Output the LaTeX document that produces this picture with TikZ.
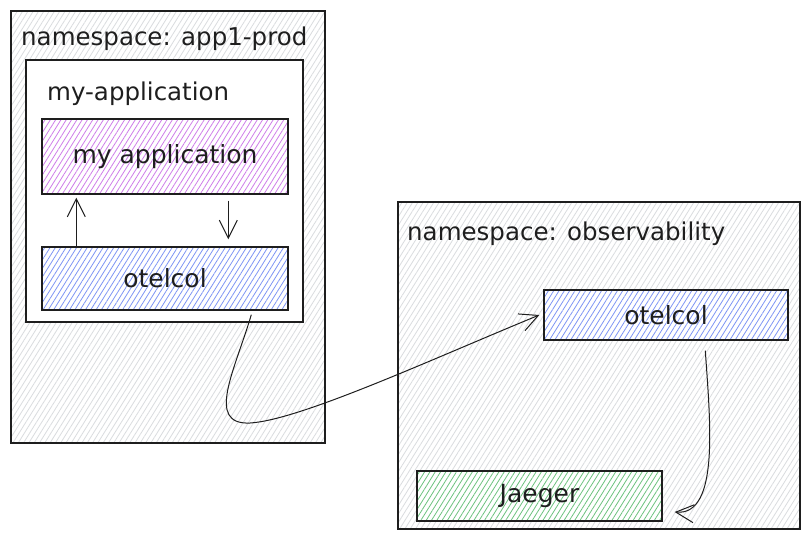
\documentclass[tikz,border=0pt]{standalone}
\usepackage{fontspec}
\setmainfont{DejaVu Sans}
\usetikzlibrary{patterns.meta,arrows.meta,calc}
\definecolor{ink}{HTML}{1E1E1E}
\definecolor{hgray}{HTML}{DADCDF}
\definecolor{hpurple}{HTML}{CF7DEA}
\definecolor{hblue}{HTML}{7E95F5}
\definecolor{hgreen}{HTML}{6CC27E}
\tikzset{
  box/.style={draw=ink, line width=1.4pt, rectangle, inner sep=0pt, preaction={fill=white}},
  hatch/.style={box, pattern={Lines[angle=58,distance=4.5pt,line width=0.8pt]}, pattern color=#1},
  plain/.style={box},
  title/.style={anchor=base west, inner sep=0pt, font=\fontsize{24.5}{29}\selectfont, text=ink},
  lbl/.style={font=\fontsize{25}{29}\selectfont, text=ink},
  arr/.style={draw=ink, line width=1pt, -{Straight Barb[length=18pt,width=18pt,line width=1pt]}}
}
\begin{document}
\begin{tikzpicture}[x=1pt,y=-1pt]
\useasboundingbox (0,0) rectangle (810,540);
% namespace app1-prod
\node[hatch=hgray, minimum width=314pt, minimum height=432pt] (ns1) at (168,227) {};
\node[title] (ns1t) at (21,46) {namespace: app1-prod};
\node[plain, minimum width=277pt, minimum height=262pt] (app) at (164.5,191) {};
\node[title] (appt) at (47,101) {my-application};
\node[hatch=hpurple, minimum width=246pt, minimum height=75pt] (myapp) at (165,156.5) {};
\node[lbl] (myappt) at (myapp) {my application};
\node[hatch=hblue, minimum width=246pt, minimum height=63pt] (otel1) at (165,278.5) {};
\node[lbl] (otel1t) at (otel1) {otelcol};
% namespace observability
\node[hatch=hgray, minimum width=402pt, minimum height=327pt] (ns2) at (599,365.5) {};
\node[title] (ns2t) at (407,240) {namespace: observability};
\node[hatch=hblue, minimum width=244pt, minimum height=50pt] (otel2) at (666,315) {};
\node[lbl] (otel2t) at (otel2) {otelcol};
\node[hatch=hgreen, minimum width=245pt, minimum height=50pt] (jaeger) at (539.5,496) {};
\node[lbl] (jaegert) at (jaeger) {Jaeger};
% connectors
\draw[arr] ($(otel1.north west)+(35pt,0)$) -- ($(myapp.south west)+(35pt,-3pt)$);
\draw[arr] ($(myapp.south west)+(187pt,-6pt)$) -- ($(otel1.north west)+(187pt,7pt)$);
\draw[arr] ($(otel1.south west)+(210pt,-4pt)$)
  .. controls (235,370) and (205,425) .. (250,423)
  .. controls (300,420) and (430,360) .. ($(otel2.west)+(-4pt,0)$);
\draw[arr] ($(otel2.south west)+(162pt,-10pt)$)
  .. controls (710,420) and (720,516) .. ($(jaeger.east)+(12pt,-16pt)$);
\end{tikzpicture}
\end{document}
